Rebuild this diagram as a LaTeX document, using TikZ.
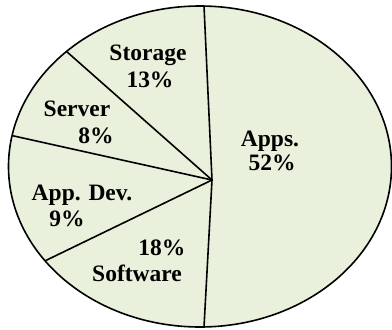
\documentclass[tikz,border=0pt]{standalone}
\usepackage{fontspec}
\setmainfont{Liberation Serif}
\usetikzlibrary{calc}
\definecolor{piefill}{HTML}{E9F0DC}
\begin{document}
\begin{tikzpicture}[x=1pt,y=-1pt,
  edge/.style={draw=black,line width=1.6pt},
  lbl/.style={font=\fontsize{23.5}{28}\selectfont\bfseries,anchor=base,inner sep=0pt}]
\useasboundingbox (0,0) rectangle (392,330);
\coordinate (C) at (200,166.5);
\coordinate (O) at (212,180);
\fill[piefill] (C) ellipse [x radius=191.5, y radius=160.5];
\coordinate (p1) at ($(C)+(-88.8:191.5 and 160.5)$);
\coordinate (p2) at ($(C)+(88.8:191.5 and 160.5)$);
\coordinate (p3) at ($(C)+(-134.2:191.5 and 160.5)$);
\coordinate (p4) at ($(C)+(-168.9:191.5 and 160.5)$);
\coordinate (p5) at ($(C)+(144:191.5 and 160.5)$);
\draw[edge] (O) -- (p1);
\draw[edge] (O) -- (p2);
\draw[edge] (O) -- (p3);
\draw[edge] (O) -- (p4);
\draw[edge] (O) -- (p5);
\draw[edge] (C) ellipse [x radius=191.5, y radius=160.5];
\node[lbl] (l1) at (148,60.7) {Storage};
\node[lbl] (l2) at (150,87.3) {13\%};
\node[lbl] (l3) at (77,116) {Server};
\node[lbl] (l4) at (96,143) {8\%};
\node[lbl] (l5) at (82,200) {App. Dev.};
\node[lbl] (l6) at (67,226.7) {9\%};
\node[lbl] (l7) at (162,255) {18\%};
\node[lbl] (l8) at (137,281.7) {Software};
\node[lbl] (l9) at (270,146) {Apps.};
\node[lbl] (l10) at (272,170.7) {52\%};
\end{tikzpicture}
\end{document}
